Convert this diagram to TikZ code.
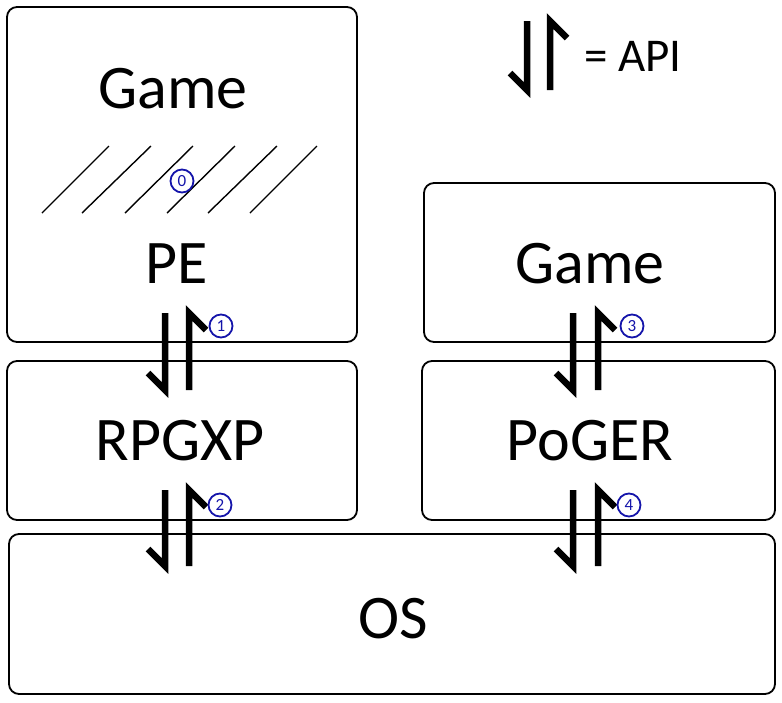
\documentclass[tikz,border=0pt]{standalone}
\usepackage{fontspec}
\setmainfont{Carlito}
\definecolor{numblue}{RGB}{20,20,170}
\tikzset{
  box/.style={draw=black, line width=1.8pt, rounded corners=10pt, inner sep=0pt},
  big/.style={font=\fontsize{62}{62}\selectfont, inner sep=0pt, anchor=base},
  num/.style={circle, draw=numblue, line width=1.8pt, text=numblue, inner sep=0pt, minimum size=23pt, font=\fontsize{17}{17}\selectfont, fill=white},
  harp/.style={line width=6.5pt, line join=miter, line cap=butt, miter limit=20},
  hatch/.style={line width=1.4pt}
}
\newcommand{\apipair}[4]{% #1 left x, #2 right x, #3 top y, #4 bottom y
  \draw[harp] (#1-17,#4-17) -- (#1,#4) -- (#1,#3);
  \draw[harp] (#2+17,#3+17) -- (#2,#3) -- (#2,#4);
}
\begin{document}
\begin{tikzpicture}[x=1pt,y=-1pt]
\useasboundingbox (0,0) rectangle (782,702);
% boxes
\node[box, minimum width=350pt, minimum height=335pt] (pebox) at (182,174.5) {};
\node[box, minimum width=351pt, minimum height=159pt] (gamebox) at (599.5,262.5) {};
\node[box, minimum width=350pt, minimum height=159pt] (rpgbox) at (182,440.5) {};
\node[box, minimum width=353pt, minimum height=159pt] (pogerbox) at (598.5,440.5) {};
\node[box, minimum width=766pt, minimum height=160pt] (osbox) at (392,614) {};
% texts
\node[big] (t1) at (173,108) {Game};
\node[big] (t2) at (177,283) {PE};
\node[big] (t3) at (590,283) {Game};
\node[big] (t4) at (180,460) {RPGXP};
\node[big] (t5) at (590,460) {PoGER};
\node[big] (t6) at (393,638) {OS};
\node[font=\fontsize{47}{47}\selectfont, inner sep=0pt, anchor=base west] (api) at (584,71) {= API};
% hatch
\foreach \a/\b in {42/109,82/151,125/193,167/235,208/277,250/317}
  \draw[hatch] (\a,213) -- (\b,146);
% harpoon pairs
\apipair{527}{550}{21}{90}
\apipair{165}{189}{313}{390}
\apipair{165}{189}{490}{566}
\apipair{573}{598}{313}{390}
\apipair{573}{598}{490}{566}
% numbers
\node[num] (n0) at (182,181) {0};
\node[num] (n1) at (221,326) {1};
\node[num] (n2) at (220,505) {2};
\node[num] (n3) at (632,326) {3};
\node[num] (n4) at (629,505) {4};
\end{tikzpicture}
\end{document}
